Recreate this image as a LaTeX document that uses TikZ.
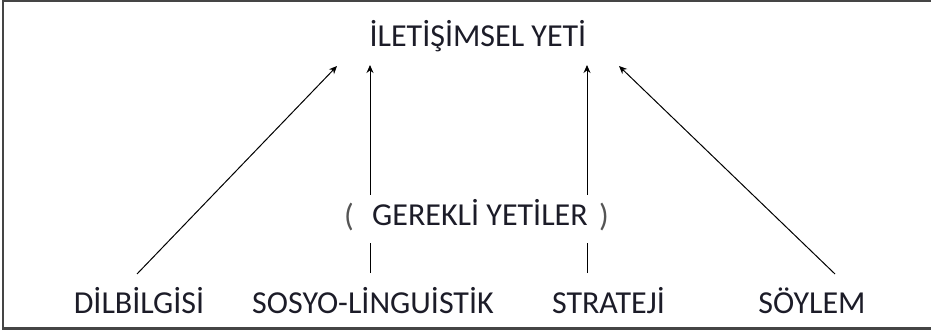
\documentclass[tikz,border=0pt]{standalone}
\usepackage{fontspec}
\setmainfont{Carlito}
\usetikzlibrary{arrows.meta}
\definecolor{txt}{HTML}{1C1C28}
\definecolor{frame}{HTML}{454545}
\definecolor{paren}{HTML}{555555}
\begin{document}
\begin{tikzpicture}[x=1pt,y=-1pt,
  lbl/.style={font=\fontsize{32}{36}\selectfont, text=txt, anchor=base, inner sep=0pt},
  prn/.style={font=\fontsize{32}{36}\selectfont, text=paren, anchor=base, inner sep=0pt},
  conn/.style={draw=black, line width=1pt},
  arr/.style={conn, -{Stealth[length=8pt,width=7pt]}}]
\useasboundingbox (0,0) rectangle (931,331);
% frame (left, top, bottom visible)
\draw[frame, line width=2.2pt] (931,1.3) -- (3,1.3) -- (3,328.5) -- (931,328.5);
% texts
\node[lbl] (title) at (478,47) {İLETİŞİMSEL YETİ};
\node[lbl] (ger) at (480,225) {GEREKLİ YETİLER};
\node[prn] (lp) at (349,226) {(};
\node[prn] (rp) at (604,226) {)};
\node[lbl] (dil) at (139,313) {DİLBİLGİSİ};
\node[lbl] (sos) at (373,313) {SOSYO-LİNGUİSTİK};
\node[lbl] (str) at (608.5,313) {STRATEJİ};
\node[lbl] (soy) at (812,313) {SÖYLEM};
% connector end points
\coordinate (a1s) at (137,274); \coordinate (a1e) at (337,66);
\coordinate (v1a) at (370,273); \coordinate (v1b) at (370,243);
\coordinate (v1c) at (370,195); \coordinate (v1e) at (370,65);
\coordinate (v2a) at (587,273); \coordinate (v2b) at (587,243);
\coordinate (v2c) at (587,195); \coordinate (v2e) at (587,65);
\coordinate (a4s) at (835,274); \coordinate (a4e) at (619,66);
% connectors
\draw[arr] (a1s) -- (a1e);
\draw[conn] (v1a) -- (v1b);
\draw[arr] (v1c) -- (v1e);
\draw[conn] (v2a) -- (v2b);
\draw[arr] (v2c) -- (v2e);
\draw[arr] (a4s) -- (a4e);
\end{tikzpicture}
\end{document}
